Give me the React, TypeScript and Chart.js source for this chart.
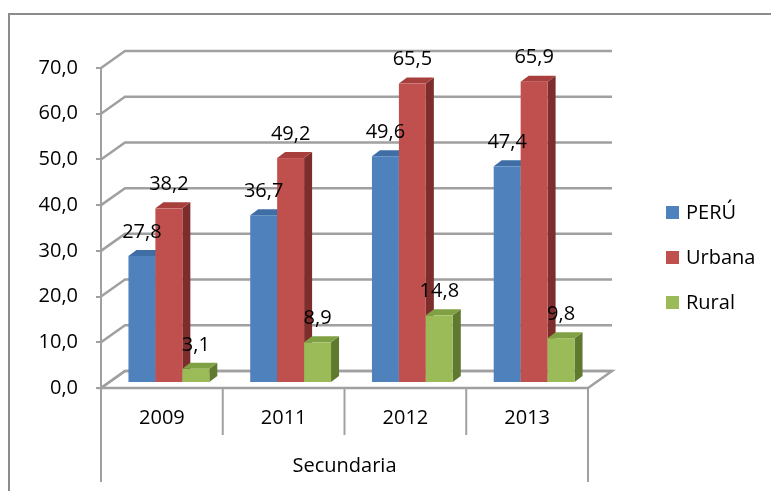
import React, { useEffect, useRef } from 'react';
import { Chart, registerables } from 'chart.js';

Chart.register(...registerables);

const categories = ['2009', '2011', '2012', '2013'];
const seriesLabels = ['PERÚ', 'Urbana', 'Rural'];
const peru = [27.8, 36.7, 49.6, 47.4];
const urbana = [38.2, 49.2, 65.5, 65.9];
const rural = [3.1, 8.9, 14.8, 9.8];
const axisTitle = 'Secundaria';
const yMin = 0;
const yMax = 70;
const yStep = 10;

const FRONT = ['#4F81BD', '#C0504D', '#9BBB59'];
const TOPC = ['#3F6EA7', '#A7403D', '#80A044'];
const SIDE = ['#2F5685', '#7D2E2C', '#5F7A2F'];

const FONT = '"Open Sans", sans-serif';
const LINE = '#a0a0a0';

// 3D geometry (pixels)
const WALL_DX = 24;
const WALL_DY = -17;
const BAR_OX = 7;
const BAR_OY = -5;
const BAR_DX = 8;
const BAR_DY = -6;

const fmt = (v: number) => v.toFixed(1).replace('.', ',');

const threeD = {
  id: 'threeD',
  beforeDatasetsDraw(chart: any) {
    const { ctx, chartArea, scales } = chart;
    const { left, right, top } = chartArea;
    const xs = scales.x;
    const ys = scales.y;
    const y0 = ys.getPixelForValue(0);
    ctx.save();
    ctx.lineCap = 'butt';
    ctx.lineJoin = 'miter';

    // floor
    ctx.beginPath();
    ctx.moveTo(left, y0);
    ctx.lineTo(right, y0);
    ctx.lineTo(right + WALL_DX, y0 + WALL_DY);
    ctx.lineTo(left + WALL_DX, y0 + WALL_DY);
    ctx.closePath();
    ctx.fillStyle = '#ffffff';
    ctx.fill();
    ctx.strokeStyle = LINE;
    ctx.lineWidth = 2.5;
    ctx.stroke();

    // gridlines (side wall diagonal + back wall horizontal)
    ctx.lineWidth = 2.5;
    ctx.strokeStyle = LINE;
    for (let v = yMin; v <= yMax; v += yStep) {
      const py = ys.getPixelForValue(v);
      ctx.beginPath();
      ctx.moveTo(left, py);
      ctx.lineTo(left + WALL_DX, py + WALL_DY);
      ctx.lineTo(right + WALL_DX, py + WALL_DY);
      ctx.stroke();
    }

    // vertical axis line and category separators
    ctx.lineWidth = 2;
    ctx.beginPath();
    ctx.moveTo(left, top);
    ctx.lineTo(left, 482);
    ctx.stroke();
    const n = categories.length;
    const cw = (right - left) / n;
    for (let k = 1; k <= n; k++) {
      const px = left + k * cw;
      ctx.beginPath();
      ctx.moveTo(px, y0);
      ctx.lineTo(px, k === n ? 482 : 435);
      ctx.stroke();
    }

    // bars
    const nd = chart.data.datasets.length;
    const labels: any[] = [];
    for (let i = 0; i < n; i++) {
      for (let j = 0; j < nd; j++) {
        const el = chart.getDatasetMeta(j).data[i];
        const p = el.getProps(['x', 'y', 'base', 'width'], true);
        const x0 = p.x - p.width / 2 + BAR_OX;
        const x1 = p.x + p.width / 2 + BAR_OX;
        const yt = p.y + BAR_OY;
        const yb = p.base + BAR_OY;
        // side
        ctx.beginPath();
        ctx.moveTo(x1, yt);
        ctx.lineTo(x1 + BAR_DX, yt + BAR_DY);
        ctx.lineTo(x1 + BAR_DX, yb + BAR_DY);
        ctx.lineTo(x1, yb);
        ctx.closePath();
        ctx.fillStyle = SIDE[j];
        ctx.fill();
        // top
        ctx.beginPath();
        ctx.moveTo(x0, yt);
        ctx.lineTo(x0 + BAR_DX, yt + BAR_DY);
        ctx.lineTo(x1 + BAR_DX, yt + BAR_DY);
        ctx.lineTo(x1, yt);
        ctx.closePath();
        ctx.fillStyle = TOPC[j];
        ctx.fill();
        // front
        ctx.fillStyle = FRONT[j];
        ctx.fillRect(x0, yt, x1 - x0, yb - yt);
        labels.push({ x: (x0 + x1) / 2, y: yt - 24, t: fmt(chart.data.datasets[j].data[i]) });
      }
    }

    // data labels
    ctx.fillStyle = '#000000';
    ctx.font = `20px ${FONT}`;
    ctx.textAlign = 'center';
    ctx.textBaseline = 'middle';
    labels.forEach((l) => ctx.fillText(l.t, l.x, l.y));
    ctx.restore();
    return false;
  },
  afterDraw(chart: any) {
    const { ctx } = chart;
    ctx.save();
    // outer frame
    ctx.strokeStyle = '#8c8c8c';
    ctx.lineWidth = 2;
    ctx.beginPath();
    ctx.moveTo(9, 491);
    ctx.lineTo(9, 14);
    ctx.lineTo(771, 14);
    ctx.stroke();
    // legend
    const ys = [212, 257, 302];
    ctx.font = `20px ${FONT}`;
    ctx.textAlign = 'left';
    ctx.textBaseline = 'middle';
    chart.data.datasets.forEach((ds: any, j: number) => {
      ctx.fillStyle = FRONT[j];
      ctx.fillRect(666, ys[j] - 6, 13, 13);
      ctx.fillStyle = '#000000';
      ctx.fillText(ds.label, 686, ys[j] + 1);
    });
    ctx.restore();
  },
};

export default function App() {
  const ref = useRef<HTMLCanvasElement>(null);
  useEffect(() => {
    document.body.style.margin = '0';
    const canvas = ref.current;
    if (!canvas) return;
    const chart = new Chart(canvas, {
      type: 'bar',
      data: {
        labels: categories,
        datasets: [
          { label: seriesLabels[0], data: peru, backgroundColor: FRONT[0] },
          { label: seriesLabels[1], data: urbana, backgroundColor: FRONT[1] },
          { label: seriesLabels[2], data: rural, backgroundColor: FRONT[2] },
        ],
      },
      options: {
        animation: false,
        responsive: false,
        maintainAspectRatio: false,
        layout: { padding: { left: 0, top: 68, right: 183, bottom: 0 } },
        datasets: { bar: { categoryPercentage: 0.664, barPercentage: 1.0 } },
        plugins: { legend: { display: false }, tooltip: { enabled: false } },
        scales: {
          x: {
            type: 'category',
            offset: true,
            grid: { display: false, drawTicks: false },
            border: { display: false },
            ticks: { color: '#000', font: { family: FONT, size: 20 }, padding: 18 },
            title: {
              display: true,
              text: axisTitle,
              color: '#000',
              font: { family: FONT, size: 20 },
              padding: { top: 0, bottom: 13 },
            },
            afterFit: (s: any) => { s.height = 103; },
          },
          y: {
            min: yMin,
            max: yMax,
            ticks: {
              stepSize: yStep,
              color: '#000',
              font: { family: FONT, size: 20 },
              padding: 18,
              callback: (v: any) => fmt(Number(v)),
            },
            grid: { display: true, drawOnChartArea: false, drawTicks: true, tickLength: 5, color: LINE, lineWidth: 2 },
            border: { display: false },
            afterFit: (s: any) => { s.width = 101; },
          },
        },
      },
      plugins: [threeD],
    } as any);
    return () => chart.destroy();
  }, []);
  return <canvas ref={ref} width={771} height={491} style={{ display: 'block' }} />;
}
